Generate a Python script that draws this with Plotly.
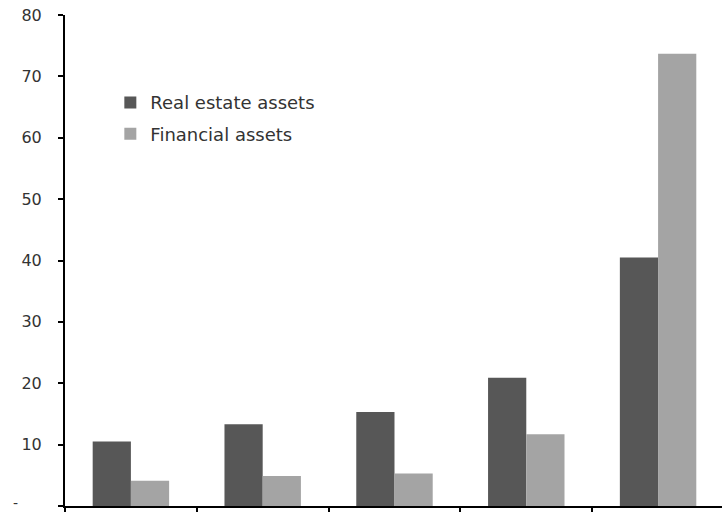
import plotly.graph_objects as go

# Household assets by group (five groups, no category labels shown)
groups = ["G1", "G2", "G3", "G4", "G5"]
real_estate = [10.5, 13.3, 15.3, 20.9, 40.5]
financial = [4.1, 4.9, 5.3, 11.7, 73.7]

y_ticks = [0, 10, 20, 30, 40, 50, 60, 70, 80]
y_tick_text = ["", "10", "20", "30", "40", "50", "60", "70", "80"]
zero_label = "-"

DARK = "#575757"
LIGHT = "#a4a4a4"
FONT = "DejaVu Sans, Liberation Sans, Arial, sans-serif"

fig = go.Figure()
fig.add_trace(go.Bar(
    x=groups, y=real_estate, name="Real estate assets",
    marker=dict(color=DARK, line=dict(width=0)), legendgroup="a",
))
fig.add_trace(go.Bar(
    x=groups, y=financial, name="Financial assets",
    marker=dict(color=LIGHT, line=dict(width=0)), legendgroup="b",
))

# accounting-style dash for the zero tick, set out to the left of the numbers
fig.add_annotation(
    text=zero_label, xref="paper", yref="y",
    x=-0.075, y=0, xanchor="center", yanchor="bottom", yshift=-6,
    showarrow=False, borderpad=0,
    font=dict(family=FONT, size=14, color="#333333"),
)

fig.update_layout(
    width=722, height=512,
    margin=dict(l=65, r=0, t=15, b=6, pad=0, autoexpand=False),
    paper_bgcolor="white", plot_bgcolor="white",
    barmode="group", bargap=0.42, bargroupgap=0,
    font=dict(family=FONT, size=16, color="#333333"),
    legend=dict(
        x=0.069, y=0.859, xanchor="left", yanchor="top",
        bgcolor="rgba(0,0,0,0)", borderwidth=0,
        font=dict(family=FONT, size=18, color="#333333"),
        tracegroupgap=5,
    ),
    xaxis=dict(
        range=[-0.5, 4.485],
        showticklabels=False,
        ticks="outside", tickson="boundaries", ticklen=9,
        tickwidth=2, tickcolor="black",
        showline=True, linecolor="black", linewidth=2,
        showgrid=False, zeroline=False,
    ),
    yaxis=dict(
        range=[0, 80],
        tickmode="array", tickvals=y_ticks, ticktext=y_tick_text,
        ticks="outside", ticklen=5, tickwidth=2, tickcolor="black",
        ticklabelstandoff=13,
        showline=True, linecolor="black", linewidth=2,
        showgrid=False, zeroline=False,
    ),
)

fig.write_html("out.html")
